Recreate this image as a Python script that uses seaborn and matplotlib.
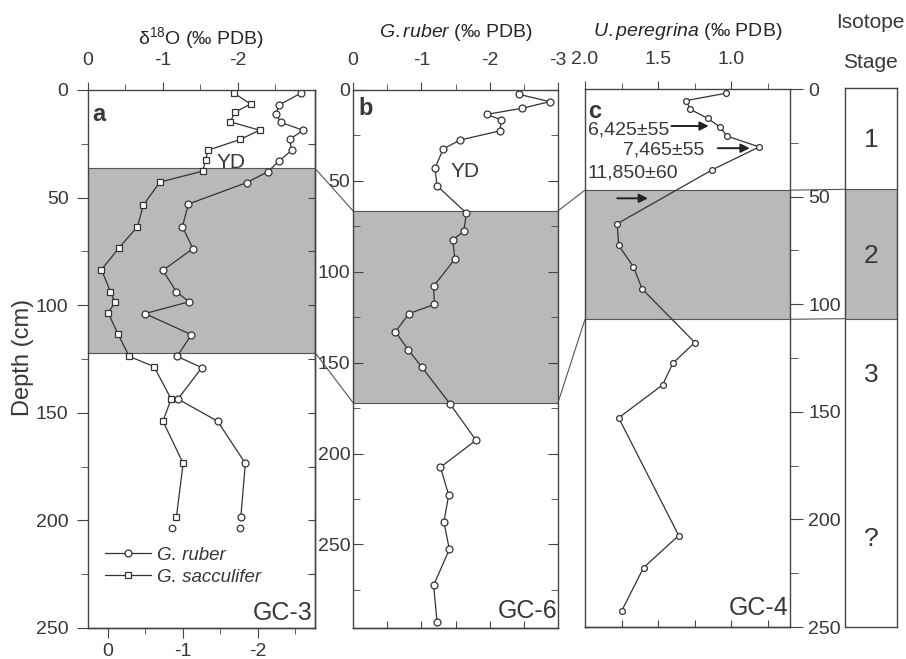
"""
Three-core oxygen isotope depth profiles (GC-3, GC-6, GC-4) with isotope stages.
"""

import matplotlib
matplotlib.use("Agg")
import matplotlib.pyplot as plt
import seaborn as sns
from matplotlib.patches import ConnectionPatch


# ── data ──
a_depth_ruber = [1.5, 7, 11, 15, 18.7, 23, 28, 33, 38, 43, 53, 63.5, 73.7, 83.8, 93.8,
                 98.4, 103.9, 113.7, 123.8, 129, 143.6, 153.9, 173.5, 198.4]
a_ruber = [-2.84, -2.55, -2.51, -2.57, -2.87, -2.69, -2.72, -2.55, -2.40, -2.12, -1.34,
           -1.26, -1.40, -1.00, -1.18, -1.35, -0.76, -1.38, -1.19, -1.52, -1.20, -1.73,
           -2.10, -2.04]
a_depth_sacc = [1.5, 6.5, 10.4, 14.8, 18.7, 23, 28, 32.7, 37.7, 42.8, 53.4, 63.5, 73.5,
                83.5, 93.8, 98.6, 103.6, 113.4, 123.8, 128.5, 143.6, 153.9, 173.5, 198.4]
a_sacc = [-1.95, -2.17, -1.96, -1.90, -2.29, -2.03, -1.60, -1.57, -1.53, -0.96, -0.74,
          -0.66, -0.41, -0.18, -0.30, -0.36, -0.27, -0.40, -0.55, -0.88, -1.11, -1.00,
          -1.27, -1.18]
# loose samples at the base of GC-3 (not joined by the line)
a_extra_depth = [203.3, 203.7]
a_extra_val = [-2.03, -1.12]

b_depth = [2.4, 6.4, 10, 13.4, 16.5, 22.5, 27.5, 32.4, 43, 52.7, 67.8, 77.8, 82.4, 93,
           108, 118, 123, 133, 143, 152.6, 172.7, 192.7, 207.5, 222.9, 237.7, 252.7,
           272.5, 292.7]
b_ruber = [-2.43, -2.88, -2.48, -1.96, -2.17, -2.15, -1.57, -1.32, -1.20, -1.23, -1.66,
           -1.62, -1.46, -1.49, -1.18, -1.19, -0.82, -0.62, -0.81, -1.01, -1.42, -1.80,
           -1.28, -1.40, -1.33, -1.41, -1.18, -1.23]

c_depth = [2, 5.4, 9.5, 13.7, 17.6, 21.9, 26.9, 37.5, 62.6, 72.7, 82.5, 92.9, 117.8,
           127.4, 137.5, 152.8, 207.5, 222.4, 242.6]
c_uvig = [1.04, 1.31, 1.28, 1.16, 1.08, 1.03, 0.81, 1.13, 1.78, 1.77, 1.67, 1.61, 1.25,
          1.40, 1.47, 1.77, 1.36, 1.60, 1.75]

shade_a = (36.4, 122)
shade_b = (66.5, 172)
shade_c = (47, 107)

stage_labels = ["1", "2", "3", "?"]
stage_depths = [24, 78, 133, 209]

dates = ["6,425±55", "7,465±55", "11,850±60"]
date_text_pos = [(1.98, 19), (1.74, 28.4), (1.98, 39.2)]
date_arrow_from = [(1.41, 17.2), (1.093, 27.5), (1.78, 50.8)]
date_arrow_to = [(1.155, 17.2), (0.875, 27.5), (1.57, 50.8)]

# ── style ──
LINE = "#333333"
TXT = "#383838"
SHADE = "#b9b9b9"

sns.set_style("ticks")
plt.rcParams["font.family"] = ["Liberation Sans", "DejaVu Sans"]
plt.rcParams["mathtext.fontset"] = "custom"
plt.rcParams["mathtext.rm"] = "Liberation Sans"
plt.rcParams["mathtext.it"] = "Liberation Sans:italic"
plt.rcParams["mathtext.bf"] = "Liberation Sans:bold"
plt.rcParams["axes.unicode_minus"] = False
plt.rcParams["axes.edgecolor"] = "#444444"
plt.rcParams["axes.linewidth"] = 1.0
plt.rcParams["text.color"] = TXT
plt.rcParams["xtick.color"] = "#444444"
plt.rcParams["ytick.color"] = "#444444"
plt.rcParams["xtick.labelcolor"] = TXT
plt.rcParams["ytick.labelcolor"] = TXT
plt.rcParams["xtick.labelsize"] = 14
plt.rcParams["ytick.labelsize"] = 14

fig = plt.figure(figsize=(9.06, 6.59), dpi=100)
W, H = 906, 659


def add_ax(left, top, right, bottom):
    return fig.add_axes([left / W, 1 - bottom / H, (right - left) / W, (bottom - top) / H])


ax_a = add_ax(88, 90, 315, 628)
ax_b = add_ax(353, 90, 558, 628)
ax_c = add_ax(585, 89, 790, 627)
ax_s = add_ax(845, 88, 897, 627)


def profile(ax, x, y, marker, ms, label=None):
    sns.lineplot(x=x, y=y, sort=False, estimator=None, ax=ax, color=LINE, lw=0.9,
                 marker=marker, markersize=ms, markerfacecolor="white",
                 markeredgecolor=LINE, markeredgewidth=0.9, label=label, legend=False)


def shade(ax, span):
    ax.axhspan(span[0], span[1], facecolor=SHADE, edgecolor="#555555", lw=0.8, zorder=0)


# ── panel a: GC-3 ──
shade(ax_a, shade_a)
profile(ax_a, a_ruber, a_depth_ruber, "o", 5, "G. ruber")
profile(ax_a, a_sacc, a_depth_sacc, "s", 4.6, "G. sacculifer")
sns.scatterplot(x=a_extra_val, y=a_extra_depth, ax=ax_a, marker="o", s=22,
                facecolor="white", edgecolor=LINE, linewidth=0.9, legend=False)
ax_a.set_xlim(0, -3.03)
ax_a.set_ylim(250, 0)
ax_a.set_xticks([0, -1, -2])
ax_a.set_xticks([-0.5, -1.5, -2.5], minor=True)
ax_a.set_yticks([0, 50, 100, 150, 200, 250])
ax_a.set_yticks(range(25, 250, 50), minor=True)
ax_a.tick_params(axis="x", which="both", top=True, bottom=False, labeltop=True,
                 labelbottom=False, direction="out", pad=9)
ax_a.tick_params(axis="x", which="major", length=6)
ax_a.tick_params(axis="x", which="minor", length=4)
ax_a.tick_params(axis="y", which="major", length=8, direction="out", pad=6)
ax_a.tick_params(axis="y", which="minor", length=5, direction="out")
ax_a.xaxis.set_label_position("top")
ax_a.set_xlabel("δ$^{18}$O (‰ PDB)", fontsize=14, labelpad=6)
ax_a.set_ylabel("")

OFF = 0.267
sec_a = ax_a.secondary_xaxis("bottom", functions=(lambda t: t + OFF, lambda v: v - OFF))
sec_a.set_xticks([0, -1, -2])
sec_a.set_xticks([-0.5, -1.5, -2.5], minor=True)
sec_a.tick_params(which="major", direction="out", length=7, pad=4)
sec_a.tick_params(which="minor", direction="out", length=4)

r_a = ax_a.secondary_yaxis("right")
r_a.set_yticks(range(25, 250, 25))
r_a.set_yticklabels([])
r_a.tick_params(direction="in", length=5)

ax_a.text(-1.72, 33.6, "YD", fontsize=15, va="center", ha="left")
ax_a.text(0.02, 0.955, "a", transform=ax_a.transAxes, fontsize=17, fontweight="bold",
          va="center", ha="left")
ax_a.text(0.99, 0.015, "GC-3", transform=ax_a.transAxes, fontsize=18, ha="right",
          va="baseline")
ax_a.legend(loc="lower left", bbox_to_anchor=(0.04, 0.065), frameon=False,
            prop={"style": "italic", "size": 13.5}, handlelength=2.5, handletextpad=0.3,
            labelspacing=0.25, borderaxespad=0)

# ── panel b: GC-6 ──
shade(ax_b, shade_b)
profile(ax_b, b_ruber, b_depth, "o", 5)
ax_b.set_xlim(0, -3)
ax_b.set_ylim(296, 0)
ax_b.set_xticks([0, -1, -2, -3])
ax_b.set_xticks([-0.5, -1.5, -2.5], minor=True)
ax_b.set_yticks([0, 50, 100, 150, 200, 250])
ax_b.set_yticks(range(25, 296, 50), minor=True)
ax_b.tick_params(axis="x", which="both", top=True, bottom=False, labeltop=True,
                 labelbottom=False, direction="out", pad=9)
ax_b.tick_params(axis="x", which="major", length=6)
ax_b.tick_params(axis="x", which="minor", length=4)
ax_b.tick_params(axis="y", which="both", left=True, right=True, direction="in", pad=2)
ax_b.tick_params(axis="y", which="major", length=7)
ax_b.tick_params(axis="y", which="minor", length=5)
ax_b.xaxis.set_label_position("top")
ax_b.set_xlabel(r"$\it{G.ruber}$ (‰ PDB)", fontsize=14, labelpad=11)
ax_b.set_ylabel("")
sec_b = ax_b.secondary_xaxis("bottom")
sec_b.set_xticks([-0.5, -1, -1.5, -2, -2.5])
sec_b.set_xticklabels([])
sec_b.tick_params(direction="in", length=5)

ax_b.text(-1.42, 45, "YD", fontsize=15, va="center", ha="left")
ax_b.text(0.025, 0.965, "b", transform=ax_b.transAxes, fontsize=17, fontweight="bold",
          va="center", ha="left")
ax_b.text(0.995, 0.019, "GC-6", transform=ax_b.transAxes, fontsize=18, ha="right",
          va="baseline")

# ── panel c: GC-4 ──
shade(ax_c, shade_c)
profile(ax_c, c_uvig, c_depth, "o", 4.2)
ax_c.set_xlim(2.0, 0.6)
ax_c.set_ylim(250, 0)
ax_c.set_xticks([2.0, 1.5, 1.0])
ax_c.set_xticks([1.75, 1.25, 0.75], minor=True)
ax_c.xaxis.set_major_formatter(matplotlib.ticker.FormatStrFormatter("%.1f"))
ax_c.set_yticks([0, 50, 100, 150, 200, 250])
ax_c.set_yticks(range(25, 250, 50), minor=True)
ax_c.tick_params(axis="x", which="both", top=True, bottom=False, labeltop=True,
                 labelbottom=False, direction="out", pad=9)
ax_c.tick_params(axis="x", which="major", length=6)
ax_c.tick_params(axis="x", which="minor", length=4)
ax_c.tick_params(axis="y", which="both", left=False, right=True, labelleft=False,
                 labelright=True, direction="out", pad=4)
ax_c.tick_params(axis="y", which="major", length=9)
ax_c.tick_params(axis="y", which="minor", length=6)
ax_c.xaxis.set_label_position("top")
ax_c.set_xlabel(r"$\it{U.peregrina}$ (‰ PDB)", fontsize=14, labelpad=11)
ax_c.set_ylabel("")
sec_c = ax_c.secondary_xaxis("bottom")
sec_c.set_xticks([1.75, 1.5, 1.25, 1.0, 0.75])
sec_c.set_xticklabels([])
sec_c.tick_params(direction="in", length=5)

ax_c.text(0.015, 0.958, "c", transform=ax_c.transAxes, fontsize=17, fontweight="bold",
          va="center", ha="left")
for txt, pos, p0, p1 in zip(dates, date_text_pos, date_arrow_from, date_arrow_to):
    ax_c.text(pos[0], pos[1], txt, fontsize=14, va="center", ha="left")
    ax_c.annotate("", xy=p1, xytext=p0,
                  arrowprops=dict(arrowstyle="-|>", color="#222222", lw=1.4,
                                  mutation_scale=13, shrinkA=0, shrinkB=0))
ax_c.text(0.995, 0.022, "GC-4", transform=ax_c.transAxes, fontsize=18, ha="right",
          va="baseline")

# ── isotope stage column ──
shade(ax_s, shade_c)
ax_s.set_ylim(250, 0)
ax_s.set_xlim(0, 1)
ax_s.set_xticks([])
ax_s.set_yticks([])
for lab, d in zip(stage_labels, stage_depths):
    ax_s.text(0.5, d, lab, fontsize=19, ha="center", va="center")
ax_s.text(0.48, 1.121, "Isotope", transform=ax_s.transAxes, fontsize=15, ha="center",
          va="center")
ax_s.text(0.48, 1.048, "Stage", transform=ax_s.transAxes, fontsize=15, ha="center",
          va="center")

fig.text(23 / W, 1 - 357 / H, "Depth (cm)", rotation=90, fontsize=17, ha="center",
         va="center")

# ── tie lines between shaded intervals ──
links = [
    (ax_a, shade_a, ax_b, shade_b),
    (ax_b, shade_b, ax_c, shade_c),
    (ax_c, shade_c, ax_s, shade_c),
]
for src, s_span, dst, d_span in links:
    for k in range(2):
        con = ConnectionPatch(xyA=(src.get_xlim()[1], s_span[k]), coordsA=src.transData,
                              xyB=(dst.get_xlim()[0], d_span[k]), coordsB=dst.transData,
                              color="#555555", lw=0.8)
        fig.add_artist(con)

fig.savefig("out.png", dpi=100)
